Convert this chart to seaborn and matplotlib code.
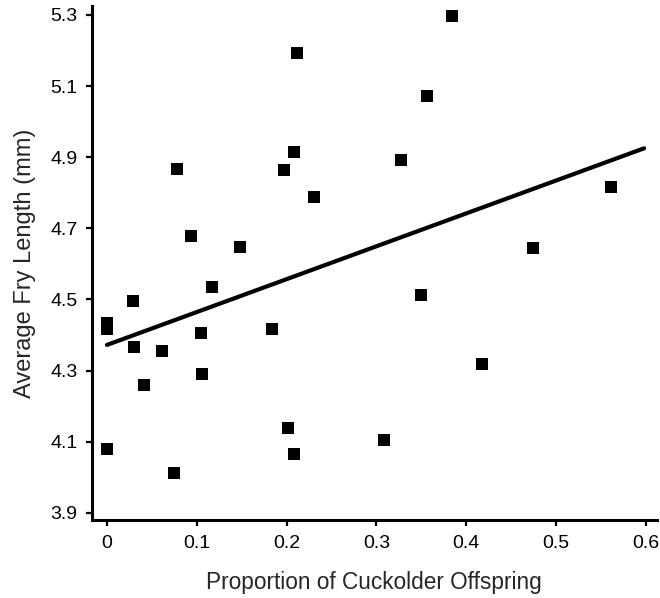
import numpy as np
import pandas as pd
import matplotlib
matplotlib.use("Agg")
import matplotlib.pyplot as plt
import seaborn as sns

# proportion of cuckolder offspring vs average fry length (mm)
cuckold_prop = [0.212, 0.384, 0.356, 0.327, 0.208, 0.197, 0.230, 0.078, 0.094,
                0.148, 0.117, 0.029, 0.0, 0.0, 0.030, 0.061, 0.105, 0.106,
                0.041, 0.184, 0.0, 0.075, 0.201, 0.208, 0.308, 0.417, 0.350,
                0.474, 0.561]
fry_length = [5.194, 5.298, 5.072, 4.892, 4.915, 4.863, 4.787, 4.866, 4.679,
              4.647, 4.534, 4.497, 4.433, 4.416, 4.367, 4.354, 4.405, 4.290,
              4.261, 4.416, 4.081, 4.011, 4.140, 4.065, 4.105, 4.320, 4.514,
              4.644, 4.816]
fit_range = [0.0, 0.598]
x_ticks = [0, 0.1, 0.2, 0.3, 0.4, 0.5, 0.6]
x_tick_labels = ["0", "0.1", "0.2", "0.3", "0.4", "0.5", "0.6"]
y_ticks = [3.9, 4.1, 4.3, 4.5, 4.7, 4.9, 5.1, 5.3]
y_tick_labels = ["3.9", "4.1", "4.3", "4.5", "4.7", "4.9", "5.1", "5.3"]

df = pd.DataFrame({"prop": cuckold_prop, "length": fry_length})

# least squares line over the drawn range
slope, intercept = np.polyfit(df["prop"], df["length"], 1)
fit = pd.DataFrame({"prop": fit_range})
fit["length"] = intercept + slope * fit["prop"]

sns.set_style("ticks")
plt.rcParams["font.family"] = ["Liberation Sans", "DejaVu Sans"]

fig = plt.figure(figsize=(6.6, 5.98), dpi=100)
ax = fig.add_axes([0.139, 0.130, 0.856, 0.860])

sns.lineplot(data=fit, x="prop", y="length", color="black", linewidth=3.0, ax=ax)
sns.scatterplot(data=df, x="prop", y="length", marker="s", s=71, color="black",
                linewidth=0, ax=ax, zorder=3)

ax.set_xlim(-0.017, 0.612)
ax.set_ylim(3.8795, 5.325)
ax.set_xticks(x_ticks)
ax.set_xticklabels(x_tick_labels)
ax.set_yticks(y_ticks)
ax.set_yticklabels(y_tick_labels)
ax.tick_params(axis="both", direction="out", length=4.3, width=1.6, color="black",
               labelsize=14, labelcolor="black", pad=6)

for side in ["top", "right"]:
    ax.spines[side].set_visible(False)
for side in ["left", "bottom"]:
    ax.spines[side].set_linewidth(2.2)
    ax.spines[side].set_color("black")

ax.set_xlabel("Proportion of Cuckolder Offspring", fontsize=16.3, labelpad=14)
ax.set_ylabel("Average Fry Length (mm)", fontsize=17, labelpad=10)

fig.savefig("out.png", dpi=100)
